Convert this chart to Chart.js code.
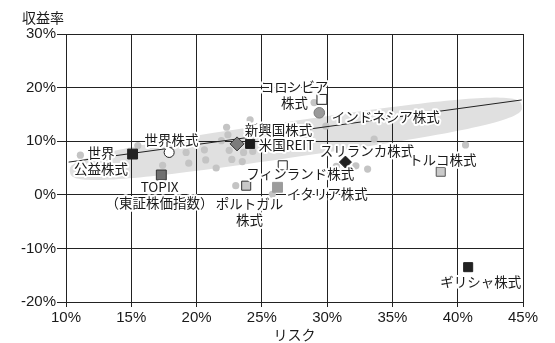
<!DOCTYPE html>
<html>
<head>
<meta charset="utf-8">
<script src="https://cdn.jsdelivr.net/npm/chart.js@4"></script>
<style>
  html, body { margin: 0; padding: 0; background: #fff; }
  #wrap { width: 555px; height: 343px; position: relative; }
</style>
</head>
<body>
<div id="wrap"><canvas id="riskChart"></canvas></div>
<script>
// ----- Data (risk % / return %) -----
const xTicks = [10, 15, 20, 25, 30, 35, 40, 45];
const yTicks = [-20, -10, 0, 10, 20, 30];

// named markets
const labelText = [
  "世界\n公益株式", "世界株式", "TOPIX\n（東証株価指数）", "新興国株式", "米国REIT",
  "コロンビア\n株式", "インドネシア株式", "スリランカ株式", "トルコ株式",
  "フィンランド株式", "ポルトガル\n株式", "イタリア株式", "ギリシャ株式"
];
const risk = [15.1, 17.9, 17.3, 23.1, 24.1, 29.6, 29.4, 31.4, 38.7, 26.6, 23.8, 26.2, 40.8];
const ret  = [7.6, 7.9, 3.7, 9.5, 9.5, 17.8, 15.3, 6.1, 4.3, 5.5, 1.7, 1.4, -13.5];

// other markets (grey dots)
const otherRisk   = [11.1, 15.5, 17.4, 19.2, 19.4, 20.6, 20.7, 21.5, 22.3, 22.4, 21.9, 22.5, 22.7,
                     23.5, 24.1, 24.3, 23.6, 23.0, 25.8, 29.0, 29.9, 33.6, 30.7, 32.2, 33.1, 40.6];
const otherReturn = [7.4, 9.2, 5.5, 7.9, 5.9, 8.4, 6.5, 5.0, 12.6, 11.2, 10.1, 8.3, 6.6,
                     6.2, 14.0, 8.1, 7.9, 1.7, 0.1, 17.2, 12.8, 10.4, 5.3, 5.4, 4.8, 9.3];

// trend line end points
const trendRisk   = [10.2, 44.9];
const trendReturn = [6.1, 17.7];

// grey band: its two tips
const bandRisk   = [10.3, 44.9];
const bandReturn = [4.3, 16.6];

// ----- Styles -----
const markerStyle = [
  { s: "rect",    r: 7,   bg: "#222",    bd: "#222" },
  { s: "circle",  r: 5,   bg: "#fff",    bd: "#222" },
  { s: "rect",    r: 7,   bg: "#6f6f6f", bd: "#333" },
  { s: "rectRot", r: 7,   bg: "#7c7c7c", bd: "#333" },
  { s: "rect",    r: 6.4, bg: "#1a1a1a", bd: "#1a1a1a" },
  { s: "rect",    r: 7,   bg: "#fff",    bd: "#222" },
  { s: "circle",  r: 5.3, bg: "#9a9a9a", bd: "#7a7a7a" },
  { s: "rectRot", r: 6,   bg: "#222",    bd: "#222" },
  { s: "rect",    r: 6.4, bg: "#cacaca", bd: "#555" },
  { s: "rect",    r: 6.4, bg: "#fff",    bd: "#222" },
  { s: "rect",    r: 6.4, bg: "#c8c8c8", bd: "#333" },
  { s: "rect",    r: 7,   bg: "#9c9c9c", bd: "#9c9c9c" },
  { s: "rect",    r: 6.4, bg: "#222",    bd: "#222" }
];
// label offset from its point (px) and text alignment
const labelPlace = [
  { dx: -31.5, dy: 6.8,   al: "center" },
  { dx: 2.4,   dy: -12.6, al: "center" },
  { dx: -1.7,  dy: 20,    al: "center" },
  { dx: 7.8,   dy: -14,   al: "left" },
  { dx: 8.7,   dy: 0.5,   al: "left" },
  { dx: -27.3, dy: -4.1,  al: "center" },
  { dx: 12.4,  dy: 4,     al: "left" },
  { dx: 21.7,  dy: -11.2, al: "center" },
  { dx: 2.1,   dy: -11.9, al: "center" },
  { dx: 17.5,  dy: 8.5,   al: "center" },
  { dx: 3.2,   dy: 26.5,  al: "center" },
  { dx: 9.3,   dy: 6.6,   al: "left" },
  { dx: 12.6,  dy: 14.8,  al: "center" }
];

const JP = '"Noto Sans CJK JP", sans-serif';
const LABEL_FONT = "13.5px " + JP;
const INK = "#1a1a1a";

// ----- Plugins -----
const bandPlugin = {
  id: "band",
  beforeDraw(chart) {
    const { ctx, scales: { x, y } } = chart;
    const x1 = x.getPixelForValue(bandRisk[0]), y1 = y.getPixelForValue(bandReturn[0]);
    const x2 = x.getPixelForValue(bandRisk[1]), y2 = y.getPixelForValue(bandReturn[1]);
    const a = Math.hypot(x2 - x1, y2 - y1) / 2;
    const b = 18;
    ctx.save();
    ctx.translate((x1 + x2) / 2, (y1 + y2) / 2);
    ctx.rotate(Math.atan2(y2 - y1, x2 - x1));
    ctx.beginPath();
    for (let i = 0; i <= 160; i++) {
      const t = (i / 160) * Math.PI * 2;
      const c = Math.cos(t), s = Math.sin(t);
      const px = a * Math.sign(c) * Math.pow(Math.abs(c), 2 / 3);
      const py = b * Math.sign(s) * Math.pow(Math.abs(s), 2 / 3);
      i ? ctx.lineTo(px, py) : ctx.moveTo(px, py);
    }
    ctx.closePath();
    ctx.fillStyle = "#e0e0e0";
    ctx.fill();
    ctx.restore();
  }
};

const labelPlugin = {
  id: "marketLabels",
  afterDatasetsDraw(chart) {
    const { ctx } = chart;
    const meta = chart.getDatasetMeta(0);
    ctx.save();
    ctx.font = LABEL_FONT;
    ctx.textBaseline = "middle";
    ctx.lineJoin = "round";
    labelText.forEach((txt, i) => {
      const pt = meta.data[i];
      const p = labelPlace[i];
      const lines = txt.split("\n");
      const lh = 16;
      const y0 = pt.y + p.dy - ((lines.length - 1) * lh) / 2;
      ctx.textAlign = p.al;
      lines.forEach((ln, j) => {
        const yy = y0 + j * lh;
        ctx.strokeStyle = "#fff";
        ctx.lineWidth = 4;
        ctx.strokeText(ln, pt.x + p.dx, yy);
        ctx.fillStyle = INK;
        ctx.fillText(ln, pt.x + p.dx, yy);
      });
    });
    // y axis title, top left
    ctx.font = "14px " + JP;
    ctx.textAlign = "left";
    ctx.fillText("収益率", 22, 18);
    ctx.restore();
  }
};
Chart.register(bandPlugin, labelPlugin);

// ----- Chart -----
const pct = (v) => v + "%";
new Chart(document.getElementById("riskChart"), {
  type: "scatter",
  data: {
    datasets: [
      {
        label: "市場",
        data: risk.map((r, i) => ({ x: r, y: ret[i] })),
        pointStyle: markerStyle.map((m) => m.s),
        pointRadius: markerStyle.map((m) => m.r),
        backgroundColor: markerStyle.map((m) => m.bg),
        borderColor: markerStyle.map((m) => m.bd),
        borderWidth: 1
      },
      {
        label: "趨勢",
        type: "line",
        data: trendRisk.map((r, i) => ({ x: r, y: trendReturn[i] })),
        borderColor: "#222",
        borderWidth: 1,
        pointRadius: 0,
        fill: false
      },
      {
        label: "その他",
        data: otherRisk.map((r, i) => ({ x: r, y: otherReturn[i] })),
        pointRadius: 3.6,
        backgroundColor: "#c4c4c4",
        borderWidth: 0
      }
    ]
  },
  options: {
    animation: false,
    responsive: true,
    maintainAspectRatio: false,
    layout: { padding: { top: 34, right: 32, left: 0, bottom: 0 } },
    plugins: { legend: { display: false }, tooltip: { enabled: false } },
    scales: {
      x: {
        type: "linear",
        min: 10,
        max: 45,
        afterBuildTicks: (s) => { s.ticks = xTicks.map((v) => ({ value: v })); },
        afterFit: (s) => { s.height = 41; },
        ticks: { callback: pct, color: INK, padding: 2, font: { family: "Liberation Sans", size: 15 } },
        grid: { color: "#222", lineWidth: 1, tickLength: 5 },
        border: { color: "#222", width: 1 },
        title: { display: true, text: "リスク", color: INK, padding: { top: 0, bottom: 0 }, font: { family: JP, size: 14 } }
      },
      y: {
        min: -20,
        max: 30,
        afterBuildTicks: (s) => { s.ticks = yTicks.map((v) => ({ value: v })); },
        afterFit: (s) => { s.width = 66; },
        ticks: { callback: pct, color: INK, padding: 1, font: { family: "Liberation Sans", size: 15 } },
        grid: { color: "#222", lineWidth: 1, tickLength: 9 },
        border: { color: "#222", width: 1 }
      }
    }
  }
});
</script>
</body>
</html>
